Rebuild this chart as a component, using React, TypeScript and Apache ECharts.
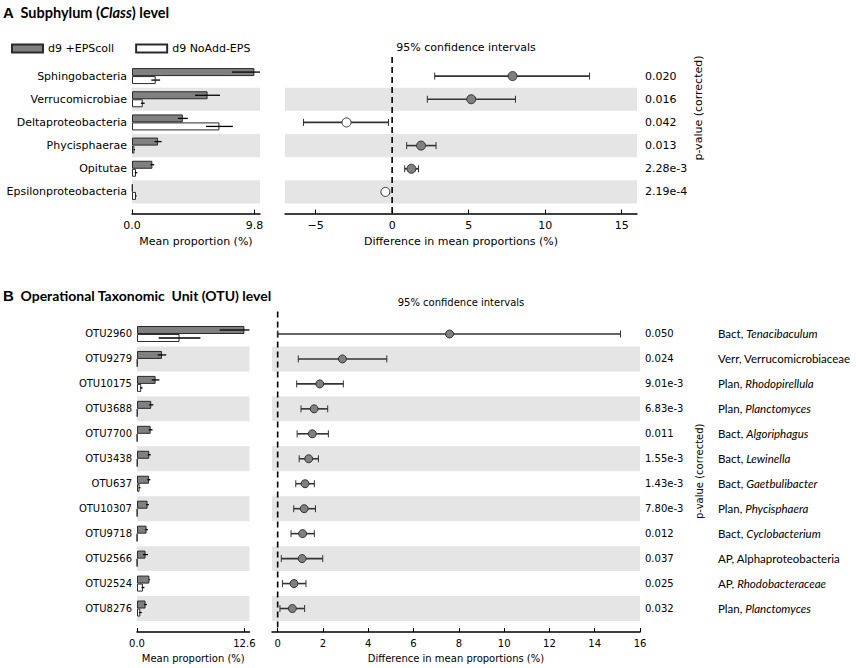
import React, { useEffect, useRef } from 'react';
import * as echarts from 'echarts';

// ---------------- DATA ----------------
const SERIES_EPS = 'd9 +EPScoll';
const SERIES_NOADD = 'd9 NoAdd-EPS';
const PVALUE_LABEL = 'p-value (corrected)';

// Panel A: class level
const classCategories = ['Sphingobacteria', 'Verrucomicrobiae', 'Deltaproteobacteria', 'Phycisphaerae', 'Opitutae', 'Epsilonproteobacteria'];
const classEpsMean = [9.8, 6.05, 4.07, 2.09, 1.63, 0.05];
const classEpsSd = [1.8, 1.0, 0.4, 0.28, 0.15, 0.0];
const classNoAddMean = [1.9, 0.86, 7.0, 0.19, 0.32, 0.32];
const classNoAddSd = [0.35, 0.15, 1.08, 0.05, 0.1, 0.05];
const classDiff = [7.87, 5.17, -2.98, 1.89, 1.26, -0.44];
const classCiLow = [2.78, 2.3, -5.79, 0.95, 0.82, -0.5];
const classCiHigh = [12.9, 8.06, -0.24, 2.87, 1.72, -0.38];
const classPValues = ['0.020', '0.016', '0.042', '0.013', '2.28e-3', '2.19e-4'];
const classMeanTicks = [0, 9.8];
const classDiffTicks = [-5, 0, 5, 10, 15];

// Panel B: OTU level
const otuCategories = ['OTU2960', 'OTU9279', 'OTU10175', 'OTU3688', 'OTU7700', 'OTU3438', 'OTU637', 'OTU10307', 'OTU9718', 'OTU2566', 'OTU2524', 'OTU8276'];
const otuEpsMean = [12.6, 2.93, 2.18, 1.67, 1.6, 1.44, 1.4, 1.24, 1.12, 1.0, 1.45, 1.0];
const otuEpsSd = [2.9, 0.5, 0.45, 0.25, 0.22, 0.18, 0.18, 0.15, 0.15, 0.3, 0.05, 0.15];
const otuNoAddMean = [4.99, 0.05, 0.5, 0.05, 0.03, 0.05, 0.3, 0.03, 0.02, 0.02, 0.7, 0.39];
const otuNoAddSd = [2.45, 0.02, 0.15, 0.02, 0.01, 0.02, 0.1, 0.01, 0.01, 0.01, 0.17, 0.17];
const otuDiff = [7.59, 2.86, 1.86, 1.61, 1.53, 1.37, 1.21, 1.17, 1.1, 1.08, 0.72, 0.65];
const otuCiLow = [0.0, 0.91, 0.84, 1.03, 0.86, 0.95, 0.8, 0.71, 0.59, 0.16, 0.21, 0.1];
const otuCiHigh = [15.14, 4.82, 2.9, 2.21, 2.24, 1.8, 1.62, 1.67, 1.62, 1.99, 1.25, 1.19];
const otuPValues = ['0.050', '0.024', '9.01e-3', '6.83e-3', '0.011', '1.55e-3', '1.43e-3', '7.80e-3', '0.012', '0.037', '0.025', '0.032'];
const otuTaxonPrefix = ['Bact', 'Verr', 'Plan', 'Plan', 'Bact', 'Bact', 'Bact', 'Plan', 'Bact', 'AP', 'AP', 'Plan'];
const otuTaxonName = ['Tenacibaculum', 'Verrucomicrobiaceae', 'Rhodopirellula', 'Planctomyces', 'Algoriphagus', 'Lewinella', 'Gaetbulibacter', 'Phycisphaera', 'Cyclobacterium', 'Alphaproteobacteria', 'Rhodobacteraceae', 'Planctomyces'];
const otuTaxonItalic = [true, false, true, true, true, true, true, true, true, false, true, true];
const otuMeanTicks = [0, 12.6];
const otuDiffTicks = [0, 2, 4, 6, 8, 10, 12, 14, 16];

// ---------------- STYLE ----------------
const FONT = 'DejaVu Sans';
const BAND = '#e5e5e5';
const GRAY = '#808080';
const EDGE = '#2a2a2a';
const BAR_W = 8;

const fmtMinus = (v: number) => (v < 0 ? '\u2212' + Math.abs(v) : String(v));

function xAxisDef(grid: number, min: number, max: number, ticks: number[], fmt: (v: number) => string, fs: number, offset: number, name: string, nameGap: number) {
  return {
    type: 'value', gridIndex: grid, min, max, offset,
    splitLine: { show: false },
    axisLine: { show: true, lineStyle: { color: '#000', width: 1.5 } },
    axisTick: { show: true, inside: true, length: 4, customValues: ticks, lineStyle: { color: '#000', width: 1 } },
    axisLabel: { show: true, customValues: ticks, formatter: fmt, fontSize: fs, fontFamily: FONT, color: '#000', margin: 6 },
    name, nameLocation: 'middle', nameGap,
    nameTextStyle: { fontSize: fs, fontFamily: FONT, color: '#000' },
  };
}

function catAxisDef(grid: number, data: string[], position: string, fs: number, margin: number, band: boolean, extra: any = {}) {
  return {
    type: 'category', gridIndex: grid, data, inverse: true, position,
    axisLine: { show: false }, axisTick: { show: false },
    splitLine: { show: false },
    splitArea: { show: band, areaStyle: { color: ['rgba(255,255,255,0)', BAND] } },
    axisLabel: { show: true, interval: 0, fontSize: fs, fontFamily: FONT, color: '#000', margin },
    ...extra,
  };
}

function barSeries(name: string, xi: number, yi: number, data: number[], fill: string) {
  return {
    type: 'bar', name, xAxisIndex: xi, yAxisIndex: yi, data,
    barWidth: BAR_W, barGap: '0%',
    itemStyle: { color: fill, borderColor: EDGE, borderWidth: 1 },
    z: 2,
  };
}

function barErrSeries(xi: number, yi: number, means: number[], sds: number[], sign: number) {
  return {
    type: 'custom', xAxisIndex: xi, yAxisIndex: yi,
    data: means.map((m, i) => [m - sds[i], m + sds[i], i]),
    encode: { x: [0, 1], y: 2 },
    z: 4,
    renderItem: (params: any, api: any) => {
      const idx = api.value(2);
      const a = api.coord([api.value(0), idx]);
      const b = api.coord([api.value(1), idx]);
      const cs = params.coordSys;
      const y = a[1] + sign * BAR_W / 2;
      const x1 = Math.max(a[0], cs.x);
      const x2 = Math.min(b[0], cs.x + cs.width);
      return { type: 'line', shape: { x1, y1: y, x2, y2: y }, style: { stroke: '#000', lineWidth: 1.3 } };
    },
  };
}

function ciSeries(xi: number, yi: number, lo: number[], hi: number[], capH: number) {
  return {
    type: 'custom', xAxisIndex: xi, yAxisIndex: yi,
    data: lo.map((l, i) => [l, hi[i], i]),
    encode: { x: [0, 1], y: 2 },
    z: 4,
    renderItem: (params: any, api: any) => {
      const idx = api.value(2);
      const a = api.coord([api.value(0), idx]);
      const b = api.coord([api.value(1), idx]);
      const st = { stroke: '#333', lineWidth: 1.6 };
      const cap = capH / 2;
      return {
        type: 'group',
        children: [
          { type: 'line', shape: { x1: a[0], y1: a[1], x2: b[0], y2: b[1] }, style: st },
          { type: 'line', shape: { x1: a[0], y1: a[1] - cap, x2: a[0], y2: a[1] + cap }, style: { stroke: '#333', lineWidth: 1 } },
          { type: 'line', shape: { x1: b[0], y1: b[1] - cap, x2: b[0], y2: b[1] + cap }, style: { stroke: '#333', lineWidth: 1 } },
        ],
      };
    },
  };
}

function dotSeries(xi: number, yi: number, diff: number[], size: number) {
  return {
    type: 'scatter', xAxisIndex: xi, yAxisIndex: yi, symbol: 'circle', symbolSize: size,
    data: diff.map((d, i) => ({ value: [d, i], itemStyle: { color: d >= 0 ? GRAY : '#ffffff' } })),
    itemStyle: { borderColor: '#333', borderWidth: 1, opacity: 1 },
    z: 5,
  };
}

function zeroLineSeries(xi: number, yi: number, extTop: number, extBottom: number) {
  return {
    type: 'custom', xAxisIndex: xi, yAxisIndex: yi,
    data: [[0, 0]],
    encode: { x: 0, y: 1 },
    z: 3,
    renderItem: (params: any, api: any) => {
      const x = api.coord([0, 0])[0];
      const cs = params.coordSys;
      return {
        type: 'line',
        shape: { x1: x, y1: cs.y - extTop, x2: x, y2: cs.y + cs.height + extBottom },
        style: { stroke: '#000', lineWidth: 1.6, lineDash: [6, 4] },
      };
    },
  };
}

export default function App() {
  const ref = useRef<HTMLDivElement>(null);
  useEffect(() => {
    if (!ref.current) return;
    const chart = echarts.init(ref.current, undefined, { renderer: 'svg' });

    const gA = { top: 64.5, height: 139 };
    const gB = { top: 321.5, height: 299.5 };
    const grids = [
      { left: 132, top: gA.top, width: 128, height: gA.height },
      { left: 285, top: gA.top, width: 352, height: gA.height },
      { left: 137, top: gB.top, width: 112.5, height: gB.height },
      { left: 272, top: gB.top, width: 368, height: gB.height },
    ];

    const option: any = {
      animation: false,
      backgroundColor: '#ffffff',
      textStyle: { fontFamily: FONT, color: '#000' },
      legend: {
        left: 6, top: 38, itemWidth: 31, itemHeight: 8, itemGap: 21, icon: 'rect',
        selectedMode: false,
        data: [{ name: SERIES_EPS }, { name: SERIES_NOADD }],
        textStyle: { fontSize: 11, color: '#000', fontFamily: FONT },
      },
      title: [
        { text: '95% confidence intervals', left: 285 + 352 / 2, top: 37, textAlign: 'center', textStyle: { fontSize: 11, fontWeight: 'normal', fontFamily: FONT, color: '#000' } },
        { text: '95% confidence intervals', left: 272 + 368 / 2, top: 292, textAlign: 'center', textStyle: { fontSize: 10, fontWeight: 'normal', fontFamily: FONT, color: '#000' } },
      ],
      graphic: [
        {
          type: 'text', x: 3, y: 12,
          style: {
            text: '{a|A}  {b|Subphylum (}{c|Class}{b|) level}', verticalAlign: 'middle',
            rich: {
              a: { fontFamily: 'Liberation Sans', fontWeight: 'bold', fontSize: 15, fill: '#000' },
              b: { fontFamily: 'Lato', fontWeight: 'bold', fontSize: 14.5, fill: '#000' },
              c: { fontFamily: 'Lato', fontWeight: 'bold', fontStyle: 'italic', fontSize: 14.5, fill: '#000' },
            },
          },
        },
        {
          type: 'text', x: 3, y: 295,
          style: {
            text: '{a|B}  {b|Operational Taxonomic  Unit (OTU) level}', verticalAlign: 'middle',
            rich: {
              a: { fontFamily: 'Liberation Sans', fontWeight: 'bold', fontSize: 15, fill: '#000' },
              b: { fontFamily: 'Lato', fontWeight: 'bold', fontSize: 14, fill: '#000' },
            },
          },
        },
        {
          type: 'text', x: 698, y: 108, rotation: Math.PI / 2,
          style: { text: PVALUE_LABEL, align: 'center', verticalAlign: 'middle', fontSize: 11, fontFamily: FONT, fill: '#000' },
        },
      ],
      grid: grids,
      xAxis: [
        xAxisDef(0, 0, 10.25, classMeanTicks, (v: number) => v.toFixed(1), 11, 10, 'Mean proportion (%)', 22),
        xAxisDef(1, -7, 16, classDiffTicks, fmtMinus, 11, 10, 'Difference in mean proportions (%)', 22),
        xAxisDef(2, 0, 13.2, otuMeanTicks, (v: number) => v.toFixed(1), 10, 11, 'Mean proportion (%)', 21),
        xAxisDef(3, -0.25, 16, otuDiffTicks, fmtMinus, 10, 11, 'Difference in mean proportions (%)', 21),
      ],
      yAxis: [
        catAxisDef(0, classCategories, 'left', 11, 5, true),
        catAxisDef(1, classPValues, 'right', 11, 8, true),
        catAxisDef(2, otuCategories, 'left', 10, 5, true),
        catAxisDef(3, otuPValues, 'right', 10, 5, true, {
          name: PVALUE_LABEL, nameLocation: 'middle', nameRotate: 90, nameGap: 54,
          nameTextStyle: { fontSize: 10, fontFamily: FONT, color: '#000' },
        }),
        catAxisDef(3, otuTaxonName, 'right', 10, 4, false, {
          offset: 74,
          axisLabel: {
            show: true, interval: 0, margin: 4,
            formatter: (_v: string, i: number) =>
              otuTaxonItalic[i]
                ? `{n|${otuTaxonPrefix[i]}, }{i|${otuTaxonName[i]}}`
                : `{n|${otuTaxonPrefix[i]}, ${otuTaxonName[i]}}`,
            rich: {
              n: { fontFamily: 'Lato', fontSize: 11.5, color: '#000' },
              i: { fontFamily: 'Lato', fontStyle: 'italic', fontSize: 11.5, color: '#000' },
            },
          },
        }),
      ],
      series: [
        barSeries(SERIES_EPS, 0, 0, classEpsMean, GRAY),
        barSeries(SERIES_NOADD, 0, 0, classNoAddMean, '#ffffff'),
        barErrSeries(0, 0, classEpsMean, classEpsSd, -1),
        barErrSeries(0, 0, classNoAddMean, classNoAddSd, 1),
        zeroLineSeries(1, 1, 7.5, 10),
        ciSeries(1, 1, classCiLow, classCiHigh, 7),
        dotSeries(1, 1, classDiff, 9),

        barSeries(SERIES_EPS, 2, 2, otuEpsMean, GRAY),
        barSeries(SERIES_NOADD, 2, 2, otuNoAddMean, '#ffffff'),
        barErrSeries(2, 2, otuEpsMean, otuEpsSd, -1),
        barErrSeries(2, 2, otuNoAddMean, otuNoAddSd, 1),
        zeroLineSeries(3, 3, 10, 11),
        ciSeries(3, 3, otuCiLow, otuCiHigh, 7),
        dotSeries(3, 3, otuDiff, 8),
      ],
    };
    chart.setOption(option);
    return () => chart.dispose();
  }, []);
  return <div ref={ref} style={{ position: 'fixed', left: 0, top: 0, width: 856, height: 668 }} />;
}
